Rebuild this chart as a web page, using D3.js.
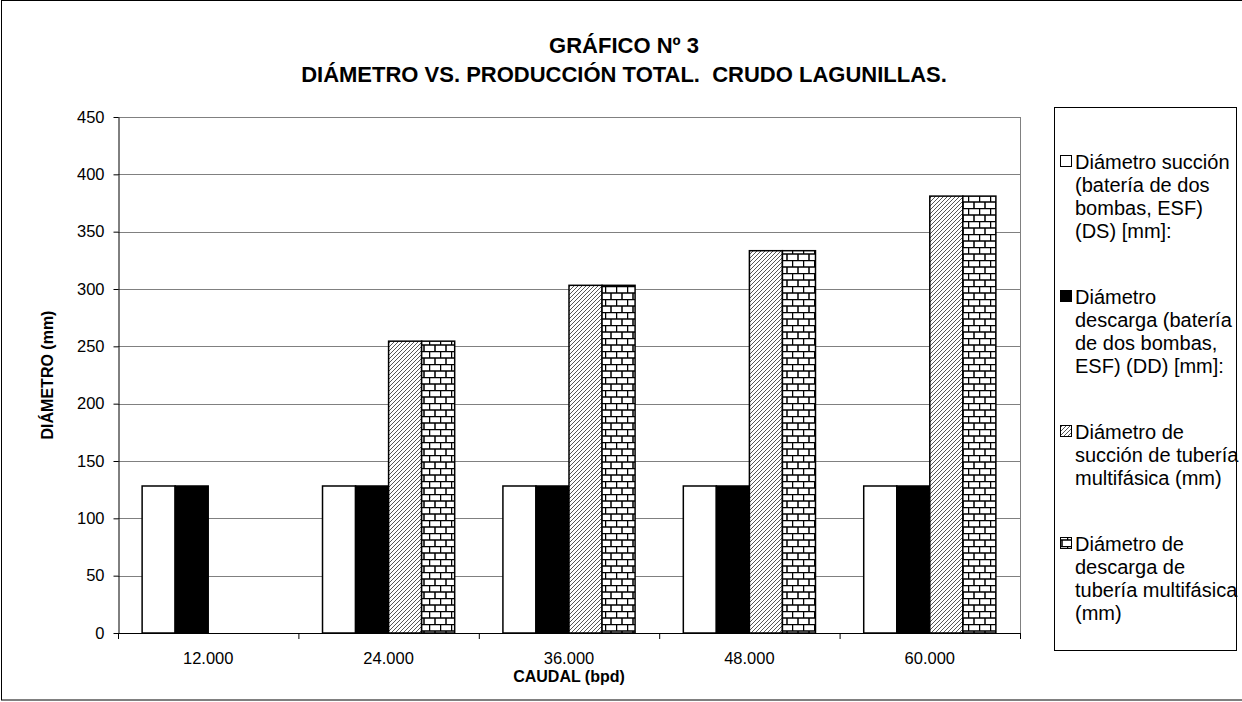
<!DOCTYPE html>
<html>
<head>
<meta charset="utf-8">
<script src="https://cdn.jsdelivr.net/npm/d3@7"></script>
<style>
  body { margin: 0; background: #fff; }
  svg text { font-family: "Liberation Sans", Arial, sans-serif; fill: #000; }
</style>
</head>
<body>
<svg id="chart" width="1242" height="702"></svg>
<script>
// data
let categories = ["12.000", "24.000", "36.000", "48.000", "60.000"];
let seriesNames = [
    "Diámetro succión (batería de dos bombas, ESF) (DS) [mm]:",
    "Diámetro descarga (batería de dos bombas, ESF) (DD) [mm]:",
    "Diámetro de succión de tubería multifásica (mm)",
    "Diámetro de descarga de tubería multifásica (mm)"
];
// legend text as it wraps in the picture
let legendLines = [
    ["Diámetro succión", "(batería de dos", "bombas, ESF)", "(DS) [mm]:"],
    ["Diámetro", "descarga (batería", "de dos bombas,", "ESF) (DD) [mm]:"],
    ["Diámetro de", "succión de tubería", "multifásica (mm)"],
    ["Diámetro de", "descarga de", "tubería multifásica", "(mm)"]
];
let dsValues = [128.2, 128.2, 128.2, 128.2, 128.2];
let ddValues = [128.2, 128.2, 128.2, 128.2, 128.2];
let tsValues = [null, 254.5, 303.2, 333.4, 381.0];
let tdValues = [null, 254.5, 303.2, 333.4, 381.0];
let yTicks = [0, 50, 100, 150, 200, 250, 300, 350, 400, 450];

let allSeries = [dsValues, ddValues, tsValues, tdValues];
let fills = ["#fff", "#000", "url(#hatch)", "url(#brick)"];

let svg = d3.select("#chart");

// patterns for the last two series
let defs = svg.append("defs");
let hatch = defs.append("pattern")
    .attr("id", "hatch")
    .attr("patternUnits", "userSpaceOnUse")
    .attr("width", 4).attr("height", 4);
hatch.append("rect").attr("width", 4).attr("height", 4).attr("fill", "#fff");
hatch.append("path")
    .attr("d", "M0,4 L4,0 M-1,1 L1,-1 M3,5 L5,3")
    .attr("stroke", "#444").attr("stroke-width", 0.9);

let brick = defs.append("pattern")
    .attr("id", "brick")
    .attr("patternUnits", "userSpaceOnUse")
    .attr("width", 11).attr("height", 13);
brick.append("rect").attr("width", 11).attr("height", 13).attr("fill", "#fff");
brick.append("path")
    .attr("d", "M0,0.5 H11 M0,7 H11 M0.5,0 V6.5 M6,6.5 V13")
    .attr("stroke", "#000").attr("stroke-width", 1.5);

// outer chart border
svg.append("rect")
    .attr("x", 1.5).attr("y", 0.5)
    .attr("width", 1270).attr("height", 699.5)
    .attr("fill", "none").attr("stroke", "#000");

let plot = { left: 118, right: 1020, top: 117, bottom: 633 };

let x = d3.scaleBand()
    .domain(categories)
    .range([plot.left, plot.right])
    .paddingInner(0).paddingOuter(0);

// four bars per category, gap on both sides
let xInner = d3.scaleBand()
    .domain(d3.range(allSeries.length))
    .range([0, x.bandwidth()])
    .paddingOuter(0.73).paddingInner(0);

let y = d3.scaleLinear()
    .domain([0, 450])
    .range([plot.bottom, plot.top]);

// gridlines
svg.append("g")
    .selectAll("line")
    .data(yTicks)
    .join("line")
    .attr("x1", plot.left).attr("x2", plot.right)
    .attr("y1", d => Math.round(y(d)) + 0.5).attr("y2", d => Math.round(y(d)) + 0.5)
    .attr("stroke", "#808080").attr("stroke-width", 1);

// right border of plot area
svg.append("line")
    .attr("x1", plot.right + 0.5).attr("x2", plot.right + 0.5)
    .attr("y1", plot.top).attr("y2", plot.bottom)
    .attr("stroke", "#808080");

// bars
categories.forEach(function(cat, ci) {
    allSeries.forEach(function(vals, si) {
        let v = vals[ci];
        if (v == null) return;
        svg.append("rect")
            .attr("x", x(cat) + xInner(si))
            .attr("y", y(v))
            .attr("width", xInner.bandwidth())
            .attr("height", y(0) - y(v))
            .attr("fill", fills[si])
            .attr("stroke", "#000")
            .attr("stroke-width", 1.5);
    });
});

// y axis
let yAxis = d3.axisLeft(y)
    .tickValues(yTicks)
    .tickSize(5)
    .tickSizeOuter(0)
    .tickPadding(9);
let gy = svg.append("g")
    .attr("transform", "translate(" + (plot.left + 0.5) + ",0)")
    .call(yAxis);
gy.selectAll("text").attr("font-size", 16.5);
gy.selectAll("line, path").attr("stroke", "#000");

// x axis: ticks sit between categories
svg.append("line")
    .attr("x1", plot.left).attr("x2", plot.right)
    .attr("y1", plot.bottom + 0.5).attr("y2", plot.bottom + 0.5)
    .attr("stroke", "#000");
svg.append("g")
    .selectAll("line")
    .data(categories.concat(["end"]))
    .join("line")
    .attr("x1", (d, i) => plot.left + i * x.bandwidth() + 0.5)
    .attr("x2", (d, i) => plot.left + i * x.bandwidth() + 0.5)
    .attr("y1", plot.bottom).attr("y2", plot.bottom + 6)
    .attr("stroke", "#000");
svg.append("g")
    .selectAll("text")
    .data(categories)
    .join("text")
    .attr("x", d => x(d) + x.bandwidth() / 2)
    .attr("y", 664)
    .attr("text-anchor", "middle")
    .attr("font-size", 16.5)
    .text(d => d);

// axis titles
svg.append("text")
    .attr("x", (plot.left + plot.right) / 2)
    .attr("y", 682)
    .attr("text-anchor", "middle")
    .attr("font-size", 16).attr("font-weight", "bold")
    .text("CAUDAL (bpd)");

svg.append("text")
    .attr("transform", "translate(53," + (plot.top + plot.bottom) / 2 + ") rotate(-90)")
    .attr("text-anchor", "middle")
    .attr("font-size", 16).attr("font-weight", "bold")
    .text("DIÁMETRO (mm)");

// title
let title = svg.append("text")
    .attr("text-anchor", "middle")
    .attr("font-size", 22).attr("font-weight", "bold");
title.append("tspan").attr("x", 624).attr("y", 53).text("GRÁFICO Nº 3");
title.append("tspan").attr("x", 624).attr("y", 82)
    .text("DIÁMETRO VS. PRODUCCIÓN TOTAL.\u00a0\u00a0CRUDO LAGUNILLAS.");

// legend
let legend = svg.append("g");
legend.append("rect")
    .attr("x", 1054.5).attr("y", 107.5)
    .attr("width", 182).attr("height", 543)
    .attr("fill", "#fff").attr("stroke", "#000");

let lineH = 23, gap = 43;
let entryY = 162;
legendLines.forEach(function(lines, si) {
    legend.append("rect")
        .attr("x", 1060.5).attr("y", entryY - 6.5)
        .attr("width", 11).attr("height", 11)
        .attr("fill", fills[si])
        .attr("stroke", "#000").attr("stroke-width", 1);
    lines.forEach(function(t, li) {
        legend.append("text")
            .attr("x", 1075)
            .attr("y", entryY + li * lineH + 7)
            .attr("font-size", 20)
            .text(t);
    });
    entryY += lines.length * lineH + gap;
});
</script>
</body>
</html>
